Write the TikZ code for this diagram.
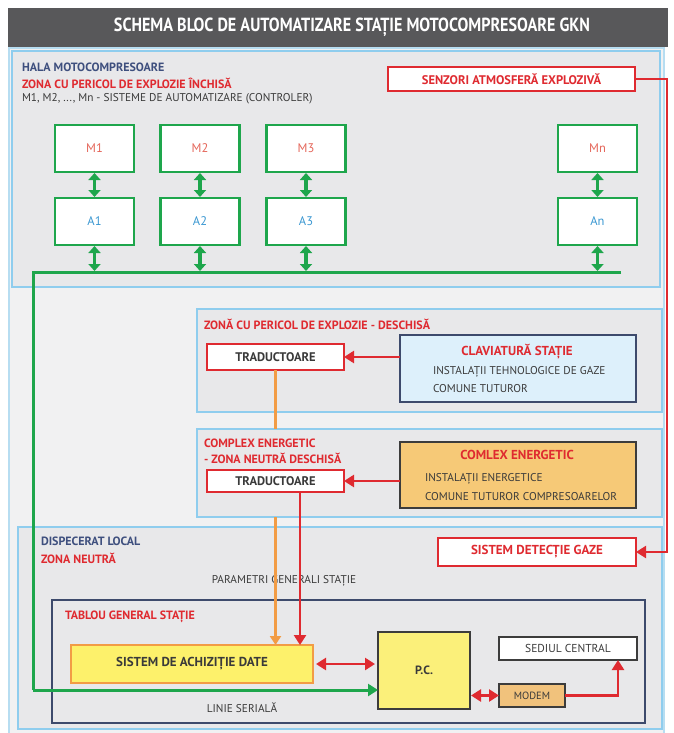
\documentclass[tikz,border=0pt]{standalone}
\usepackage{fontspec}
\setmainfont{PT Sans}
\newfontfamily\cond{PT Sans}
\newfontfamily\titlefont{PT Sans}[FakeStretch=0.85]
\usetikzlibrary{arrows.meta}

\definecolor{barGray}{HTML}{58585A}
\definecolor{panelFill}{HTML}{F1F1F2}
\definecolor{panelLine}{HTML}{B7DDF1}
\definecolor{zoneFill}{HTML}{E8E8EA}
\definecolor{zoneLine}{HTML}{8FCDEE}
\definecolor{alertRed}{HTML}{DF2A30}
\definecolor{busGreen}{HTML}{1EA64C}
\definecolor{navyText}{HTML}{3E4F7E}
\definecolor{darkText}{HTML}{3A3A3A}
\definecolor{wireOrange}{HTML}{F29C45}
\definecolor{navyLine}{HTML}{3D4A6C}
\definecolor{mText}{HTML}{E5665A}
\definecolor{aText}{HTML}{3B98D2}
\definecolor{keyFill}{HTML}{DDF0FB}
\definecolor{energyFill}{HTML}{F6C977}
\definecolor{acqFill}{HTML}{FDF16B}
\definecolor{pcFill}{HTML}{FBF07A}
\definecolor{modemFill}{HTML}{F1C27C}
\definecolor{boxDark}{HTML}{3C3C3C}

\begin{document}
\begin{tikzpicture}[x=1pt,y=-1pt,
  every node/.style={inner sep=0pt,outer sep=0pt},
  corner/.style={anchor=north west},
  zonebox/.style={corner,draw=zoneLine,fill=zoneFill,line width=1.6pt},
  ctlbox/.style={draw=busGreen,fill=white,line width=2.5pt,minimum width=79pt,minimum height=47pt,font=\cond\fontsize{12.5}{14}\selectfont},
  redbox/.style={corner,draw=alertRed,fill=white,line width=2pt,text=alertRed,font=\cond\bfseries\fontsize{12.5}{14}\selectfont},
  tradbox/.style={corner,draw=alertRed,fill=white,line width=2pt,text=darkText,font=\cond\bfseries\fontsize{12.5}{14}\selectfont},
  darkbox/.style={corner,draw=boxDark,line width=1.8pt,text=darkText},
  lblB/.style={anchor=west,font=\cond\bfseries\fontsize{12}{14}\selectfont},
  lbl/.style={anchor=west,text=darkText,font=\cond\fontsize{11.3}{13}\selectfont},
  gtip/.style={},
  garrow/.style={busGreen,line width=3.6pt,{Triangle[length=7pt,width=12pt]}-{Triangle[length=7pt,width=12pt]}},
  gline/.style={busGreen,line width=3pt},
  rarrow/.style={alertRed,line width=2.8pt,-{Triangle[length=10pt,width=12pt]}},
  rdarrow/.style={alertRed,line width=2.8pt,{Triangle[length=10pt,width=12pt]}-{Triangle[length=10pt,width=12pt]}},
  oline/.style={wireOrange,line width=2.2pt},
  oarrow/.style={oline,-{Triangle[length=9pt,width=11pt]}}
]
\useasboundingbox (0,0) rectangle (673,733);
\fill[white] (0,0) rectangle (673,733);

% title bar and background panel
\node[corner,fill=barGray,minimum width=660pt,minimum height=39pt] (bar) at (8,8) {};
\node[text=white,font=\titlefont\bfseries\fontsize{19}{20}\selectfont] (title) at ([xshift=14pt]bar.center) {SCHEMA BLOC DE AUTOMATIZARE STAȚIE MOTOCOMPRESOARE GKN};
\node[corner,draw=panelLine,fill=panelFill,line width=1.4pt,minimum width=655pt,minimum height=700pt] (panel) at (9,48) {};

% compressor hall
\node[zonebox,minimum width=648pt,minimum height=236pt] (hala) at (12,51) {};
\node[lblB,text=navyText] (halaT) at (22,67) {HALA MOTOCOMPRESOARE};
\node[lblB,text=alertRed] (halaZ) at (22,83) {ZONA CU PERICOL DE EXPLOZIE ÎNCHISĂ};
\node[lbl] (halaM) at (22,99) {M1, M2, ..., Mn - SISTEME DE AUTOMATIZARE (CONTROLER)};
\node[redbox,minimum width=247pt,minimum height=24pt] (senz) at (388,67) {SENZORI ATMOSFERĂ EXPLOZIVĂ};

\node[ctlbox,text=mText] (m1) at (94.5,148.5) {M1};
\node[ctlbox,text=mText] (m2) at (200,148.5) {M2};
\node[ctlbox,text=mText] (m3) at (306,148.5) {M3};
\node[ctlbox,text=mText] (mn) at (597.5,148.5) {Mn};
\node[ctlbox,text=aText] (a1) at (94.5,221.5) {A1};
\node[ctlbox,text=aText] (a2) at (200,221.5) {A2};
\node[ctlbox,text=aText] (a3) at (306,221.5) {A3};
\node[ctlbox,text=aText] (an) at (597.5,221.5) {An};

% open explosion-risk zone
\node[zonebox,minimum width=465pt,minimum height=103pt] (zona2) at (197,309) {};
\node[lblB,text=alertRed] (zona2T) at (204,324) {ZONĂ CU PERICOL DE EXPLOZIE - DESCHISĂ};
\node[tradbox,minimum width=137pt,minimum height=26pt] (trad1) at (207,344) {TRADUCTOARE};
\node[corner,draw=navyLine,fill=keyFill,line width=1.8pt,minimum width=236pt,minimum height=67pt] (clav) at (400,335) {};
\node[text=alertRed,font=\cond\bfseries\fontsize{13}{14}\selectfont] (clavT) at (517,352) {CLAVIATURĂ STAȚIE};
\node[lbl] (clav1) at (433,372) {INSTALAȚII TEHNOLOGICE DE GAZE};
\node[lbl] (clav2) at (433,389) {COMUNE TUTUROR};

% energy complex zone
\node[zonebox,minimum width=465pt,minimum height=88pt] (zona3) at (197,429) {};
\node[lblB,text=alertRed] (zona3T) at (204,443) {COMPLEX ENERGETIC};
\node[lblB,text=alertRed] (zona3N) at (204,458) {- ZONA NEUTRĂ DESCHISĂ};
\node[tradbox,minimum width=137pt,minimum height=22pt] (trad2) at (207,470) {TRADUCTOARE};
\node[corner,draw=boxDark,fill=energyFill,line width=1.8pt,minimum width=236pt,minimum height=66pt] (energ) at (400,442) {};
\node[text=alertRed,font=\cond\bfseries\fontsize{13}{14}\selectfont] (energT) at (517,455) {COMLEX ENERGETIC};
\node[lbl] (energ1) at (425,479) {INSTALAȚII ENERGETICE};
\node[lbl] (energ2) at (425,497) {COMUNE TUTUROR COMPRESOARELOR};

% local dispatch
\node[zonebox,minimum width=644pt,minimum height=202pt] (disp) at (18,527) {};
\node[lblB,text=navyText] (dispT) at (41,541) {DISPECERAT LOCAL};
\node[lblB,text=alertRed] (dispZ) at (41,558) {ZONA NEUTRĂ};
\node[redbox,minimum width=198pt,minimum height=28pt,font=\cond\bfseries\fontsize{13}{14}\selectfont] (detect) at (438,538) {SISTEM DETECȚIE GAZE};
\node[text=darkText,font=\cond\fontsize{11.3}{13}\selectfont] (param) at (284,581) {PARAMETRI GENERALI STAȚIE};

\node[corner,draw=navyLine,fill=zoneFill,line width=1.6pt,minimum width=593pt,minimum height=123pt] (tablou) at (52,600) {};
\node[lblB,text=alertRed] (tablouT) at (65,617) {TABLOU GENERAL STAȚIE};
\node[corner,draw=wireOrange,fill=acqFill,line width=1.8pt,minimum width=242pt,minimum height=38pt,text=darkText,font=\cond\bfseries\fontsize{13}{14}\selectfont] (achiz) at (71,645) {SISTEM DE ACHIZIȚIE DATE};
\node[darkbox,fill=pcFill,minimum width=92pt,minimum height=77pt,font=\cond\bfseries\fontsize{12}{14}\selectfont] (pc) at (378,632) {P.C.};
\node[darkbox,fill=white,minimum width=138pt,minimum height=23pt,font=\cond\fontsize{11.5}{13}\selectfont] (sediu) at (499,637) {SEDIUL CENTRAL};
\node[darkbox,fill=modemFill,minimum width=66pt,minimum height=23pt,font=\cond\fontsize{10.5}{12}\selectfont] (modem) at (499,684) {MODEM};
\node[text=darkText,font=\cond\fontsize{11.3}{13}\selectfont] (serial) at (242,708) {LINIE SERIALĂ};

% controller links and field bus
\foreach \m/\a in {m1/a1,m2/a2,m3/a3,mn/an}{
  \draw[garrow] ([yshift=-1pt]\m.south) -- ([yshift=1pt]\a.north);
  \draw[garrow] ([yshift=-1pt]\a.south) -- (\a.south |- 0,271);
}
\coordinate (busR) at (621,272);
\coordinate (busL) at (33,272);
\coordinate (busC) at (33,690);
\draw[gline] (busR) -- (busL) -- (busC);
\draw[gline,-{Triangle[length=10pt,width=12pt]}] (busC) -- (busC -| pc.west);

% orange signal wire, hidden where it crosses the energy zone
\draw[oline] (trad1.south) -- (trad1.south |- zona3.north);
\draw[oarrow] (trad1.south |- zona3.south) -- (trad1.south |- achiz.north);

% red signal paths
\coordinate (rx) at (667,0);
\draw[alertRed,line width=2.2pt,-{Triangle[length=10pt,width=12pt]}] (senz.east) -- (senz.east -| rx) |- (detect.east);
\draw[rarrow] (clav.west |- trad1.east) -- (trad1.east);
\draw[rarrow] (energ.west |- trad2.east) -- (trad2.east);
\coordinate (tx) at (300,0);
\draw[rarrow] (trad2.south -| tx) -- (tx |- achiz.north);
\draw[rdarrow] ([xshift=3pt]achiz.east) -- ([xshift=-3pt]achiz.east -| pc.west);
\draw[rdarrow] ([xshift=1pt]pc.east |- modem.west) -- (modem.west);
\coordinate (sx) at (618,0);
\draw[rarrow] (modem.east) -| (sx |- sediu.south);
\end{tikzpicture}
\end{document}
